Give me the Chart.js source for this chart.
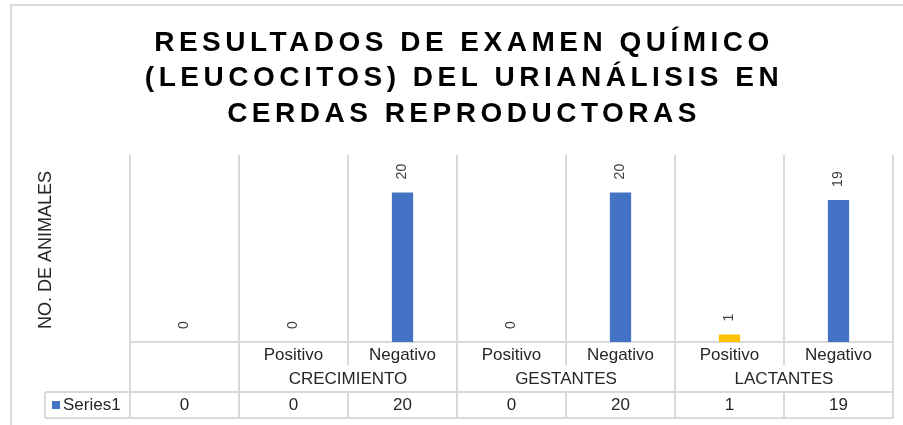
<!DOCTYPE html>
<html>
<head>
<meta charset="utf-8">
<script src="https://cdn.jsdelivr.net/npm/chart.js@4.4.1/dist/chart.umd.min.js"></script>
<style>
  html, body { margin: 0; padding: 0; background: #ffffff; }
  #wrap { width: 903px; height: 425px; }
</style>
</head>
<body>
<div id="wrap"><canvas id="c" width="903" height="425"></canvas></div>
<script>
// ---- data ----
const titleLines = ['RESULTADOS DE EXAMEN QUÍMICO', '(LEUCOCITOS) DEL URIANÁLISIS EN', 'CERDAS REPRODUCTORAS'];
const yAxisTitle = 'NO. DE ANIMALES';
const categories = ['', 'Positivo', 'Negativo', 'Positivo', 'Negativo', 'Positivo', 'Negativo'];
const groupLabels = ['', 'CRECIMIENTO', 'GESTANTES', 'LACTANTES'];
const groupSizes = [1, 2, 2, 2];
const seriesName = 'Series1';
const series1 = [0, 0, 20, 0, 20, 1, 19];

// ---- styles ----
const FONT = '"Liberation Sans", Arial, sans-serif';
const BLUE = '#4472C4';
const YELLOW = '#FFC000';
const GRID = '#d9d9d9';
const TEXT = '#262626';
const barColors = [BLUE, BLUE, BLUE, BLUE, BLUE, YELLOW, BLUE];

const decor = {
  id: 'decor',
  afterDraw(chart) {
    const ctx = chart.ctx;
    const xs = chart.scales.x;
    const area = chart.chartArea;
    const n = categories.length;
    const step = (xs.getPixelForValue(1) - xs.getPixelForValue(0));
    const bound = i => xs.getPixelForValue(0) - step / 2 + i * step;
    const yAxis = area.bottom;
    const yInnerEnd = 365, yTableTop = 392, yTableBot = 418, tableLeft = 45;

    ctx.save();
    // outer frame
    ctx.strokeStyle = GRID; ctx.lineWidth = 2;
    ctx.beginPath();
    ctx.moveTo(11, 425); ctx.lineTo(11, 5); ctx.lineTo(903, 5);
    ctx.stroke();

    // title
    ctx.fillStyle = '#000000';
    ctx.font = 'bold 28px ' + FONT;
    ctx.textAlign = 'center';
    ctx.textBaseline = 'alphabetic';
    try { ctx.letterSpacing = '4.5px'; } catch (e) {}
    const baselines = [50.5, 86, 121.5];
    titleLines.forEach((t, i) => ctx.fillText(t, 464, baselines[i]));
    try { ctx.letterSpacing = '0px'; } catch (e) {}

    // y title
    ctx.save();
    ctx.translate(46, 250);
    ctx.rotate(-Math.PI / 2);
    ctx.font = '18px ' + FONT;
    ctx.fillStyle = TEXT;
    ctx.textAlign = 'center';
    ctx.textBaseline = 'middle';
    ctx.fillText(yAxisTitle, 0, 0);
    ctx.restore();

    // table / group lines
    ctx.strokeStyle = GRID; ctx.lineWidth = 2;
    const groupBounds = [0];
    groupSizes.reduce((a, s) => { groupBounds.push(a + s); return a + s; }, 0);
    ctx.beginPath();
    for (let i = 0; i <= n; i++) {
      const x = bound(i);
      if (groupBounds.includes(i)) {
        ctx.moveTo(x, yAxis); ctx.lineTo(x, yTableBot);
      } else {
        ctx.moveTo(x, yAxis); ctx.lineTo(x, yInnerEnd);
        ctx.moveTo(x, yTableTop); ctx.lineTo(x, yTableBot);
      }
    }
    ctx.moveTo(tableLeft, yTableTop); ctx.lineTo(bound(n), yTableTop);
    ctx.moveTo(tableLeft, yTableBot); ctx.lineTo(bound(n), yTableBot);
    ctx.moveTo(tableLeft, yTableTop); ctx.lineTo(tableLeft, yTableBot);
    ctx.stroke();

    // group labels
    ctx.font = '17px ' + FONT;
    ctx.fillStyle = TEXT;
    ctx.textAlign = 'center';
    ctx.textBaseline = 'middle';
    let start = 0;
    groupSizes.forEach((s, g) => {
      const cx = (bound(start) + bound(start + s)) / 2;
      if (groupLabels[g]) ctx.fillText(groupLabels[g], cx, 379);
      start += s;
    });

    // table values
    series1.forEach((v, i) => {
      ctx.fillText(String(v), xs.getPixelForValue(i), 405.5);
    });

    // legend key + series name
    ctx.fillStyle = BLUE;
    ctx.fillRect(52, 401, 8, 8);
    ctx.fillStyle = TEXT;
    ctx.textAlign = 'left';
    ctx.fillText(seriesName, 63, 405.5);

    // data labels (rotated)
    const meta = chart.getDatasetMeta(0);
    ctx.font = '14px ' + FONT;
    ctx.fillStyle = '#404040';
    meta.data.forEach((bar, i) => {
      ctx.save();
      ctx.translate(bar.x, bar.y - 13);
      ctx.rotate(-Math.PI / 2);
      ctx.textAlign = 'left';
      ctx.textBaseline = 'middle';
      ctx.fillText(String(series1[i]), 0, 0);
      ctx.restore();
    });
    ctx.restore();
  }
};

new Chart(document.getElementById('c'), {
  type: 'bar',
  data: {
    labels: categories,
    datasets: [{
      label: seriesName,
      data: series1,
      backgroundColor: barColors,
      borderWidth: 0,
      barPercentage: 1,
      categoryPercentage: 0.195
    }]
  },
  options: {
    responsive: false,
    animation: false,
    devicePixelRatio: 1,
    layout: { padding: { left: 130, top: 155, right: 10, bottom: 7 } },
    plugins: {
      legend: { display: false },
      title: { display: false },
      tooltip: { enabled: false }
    },
    scales: {
      x: {
        offset: true,
        grid: { offset: true, color: GRID, lineWidth: 2, drawTicks: false },
        border: { display: true, color: GRID, width: 2 },
        ticks: {
          autoSkip: false, maxRotation: 0, minRotation: 0, padding: 3,
          color: TEXT, font: { family: FONT, size: 17 }
        },
        afterFit(scale) { scale.height = 76; }
      },
      y: {
        display: false,
        min: 0,
        max: 25
      }
    }
  },
  plugins: [decor]
});
</script>
</body>
</html>
